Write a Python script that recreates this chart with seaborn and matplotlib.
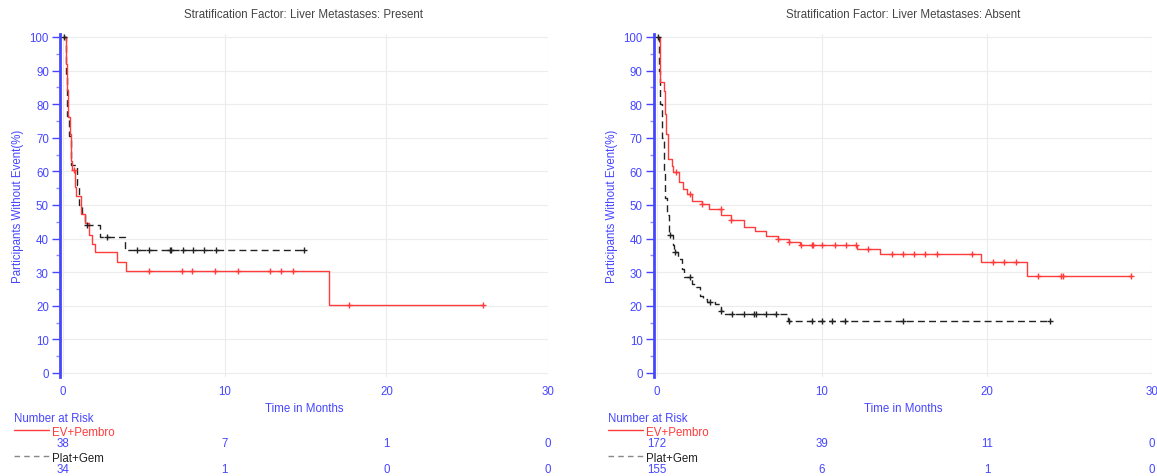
import matplotlib
matplotlib.use('Agg')
import matplotlib.pyplot as plt
from matplotlib.transforms import blended_transform_factory
from matplotlib.lines import Line2D
import seaborn as sns
import numpy as np
import pandas as pd

# ######################################################## data

titles = ['Stratification Factor: Liver Metastases: Present',
          'Stratification Factor: Liver Metastases: Absent']
arms = ['EV+Pembro', 'Plat+Gem']
risk_times = [0, 10, 20, 30]

# liver metastases present
ev_t_present = [0, 0.2, 0.25, 0.3, 0.41, 0.45, 0.52, 0.72, 0.82, 1.09, 1.34, 1.61, 1.75, 1.96, 3.3, 3.9, 16.45]
ev_s_present = [100, 92.1, 84.2, 76.3, 71.1, 63.2, 60.5, 55.3, 52.6, 47.4, 44.7, 41.2, 38.4, 35.9, 33.0, 30.2, 20.1]
ev_c_present = [0.67, 5.3, 7.34, 7.97, 9.4, 10.8, 12.8, 13.5, 14.2, 17.7, 25.95]
pg_t_present = [0, 0.15, 0.2, 0.25, 0.35, 0.49, 0.85, 1.0, 1.15, 1.32, 2.3, 3.8]
pg_s_present = [100, 94.1, 88.2, 76.5, 70.6, 61.8, 55.9, 50.0, 47.1, 44.1, 40.4, 36.7]
pg_c_present = [0.05, 1.45, 2.7, 4.55, 5.3, 6.6, 6.7, 7.4, 8.0, 8.7, 9.45, 14.9]
ev_risk_present = [38, 7, 1, 0]
pg_risk_present = [34, 1, 0, 0]

# liver metastases absent
ev_t_absent = [0, 0.2, 0.4, 0.46, 0.53, 0.68, 0.89, 0.99, 1.35, 1.6, 1.8, 2.1, 2.72, 3.13, 3.87, 4.5,
               5.27, 5.93, 6.6, 7.34, 8.0, 8.65, 12.12, 13.49, 19.64, 22.43]
ev_s_absent = [100, 86.6, 84.0, 77.0, 71.1, 63.7, 61.7, 59.7, 56.7, 54.8, 53.3, 51.3, 50.3, 48.8, 47.0, 45.6,
               43.5, 42.3, 40.7, 39.9, 39.1, 38.2, 36.9, 35.4, 32.9, 28.8]
ev_c_absent = [1.15, 2.0, 2.74, 3.85, 4.5, 7.34, 8.0, 8.7, 9.37, 9.47, 10.03, 10.77, 11.48, 12.08, 12.78,
               14.24, 14.9, 15.57, 16.26, 16.98, 19.08, 20.39, 21.05, 21.76, 23.12, 24.48, 24.58, 28.7]
pg_t_absent = [0, 0.12, 0.2, 0.3, 0.4, 0.5, 0.6, 0.7, 0.75, 0.95, 1.05, 1.25, 1.5, 1.65, 2.1, 2.35,
               2.6, 2.8, 3.0, 3.5, 3.85, 4.1, 7.95]
pg_s_absent = [100, 90, 80, 70, 60, 52, 47, 44, 41.1, 38, 36.1, 34, 31, 28.5, 26.5, 25.5,
               23, 22, 21.2, 20.5, 18.3, 17.5, 15.4]
pg_c_absent = [0.08, 0.76, 1.09, 2.0, 3.2, 3.9, 4.55, 5.27, 5.88, 5.98, 6.63, 7.2,
               8.0, 9.37, 10.03, 10.63, 11.37, 14.9, 23.8]
ev_risk_absent = [172, 39, 11, 0]
pg_risk_absent = [155, 6, 1, 0]

# ######################################################## style

BLUE = '#4646ff'
RED = '#ff3b3b'
DARK = '#222222'
FS = 8.3

sns.set_theme(style='white')
plt.rcParams['font.family'] = ['Liberation Sans', 'DejaVu Sans']


def km_frame(times, surv, censors):
    t = list(times) + [max(censors[-1], times[-1])]
    s = list(surv) + [surv[-1]]
    return pd.DataFrame({'time': t, 'surv': s})


def censor_frame(times, surv, censors):
    idx = np.searchsorted(np.array(times), np.array(censors), side='right') - 1
    return pd.DataFrame({'time': censors, 'surv': np.array(surv)[idx]})


def draw_panel(fig, ax, title, ev, pg, ev_risk, pg_risk, left_px):
    ev_df = km_frame(*ev)
    pg_df = km_frame(*pg)
    sns.lineplot(data=pg_df, x='time', y='surv', drawstyle='steps-post', color=DARK,
                 linewidth=1.0, dashes=False, ax=ax, sort=False, estimator=None)
    ax.lines[-1].set_dashes((5, 3))
    sns.lineplot(data=ev_df, x='time', y='surv', drawstyle='steps-post', color=RED,
                 linewidth=1.0, ax=ax, sort=False, estimator=None)
    ev_c = censor_frame(*ev)
    pg_c = censor_frame(*pg)
    ax.plot(pg_c['time'], pg_c['surv'], ls='none', marker='+', ms=5, mew=1.0, color=DARK)
    ax.plot(ev_c['time'], ev_c['surv'], ls='none', marker='+', ms=5, mew=1.0, color=RED)

    ax.set_xlim(-0.2, 30)
    ax.set_ylim(-1.2, 101)
    ax.set_xticks(risk_times)
    ax.set_yticks(range(0, 101, 10))
    ax.set_yticks(range(5, 100, 10), minor=True)
    ax.grid(True, which='major', color='#ececec', linewidth=0.8)
    ax.set_axisbelow(True)
    for side in ['top', 'right', 'bottom']:
        ax.spines[side].set_visible(False)
    ax.spines['left'].set_color(BLUE)
    ax.spines['left'].set_linewidth(2)
    ax.tick_params(axis='x', length=0, pad=6, labelsize=FS, labelcolor=BLUE)
    ax.tick_params(axis='y', which='major', length=6, width=1, color=BLUE, pad=2,
                   labelsize=FS, labelcolor=BLUE, left=True)
    ax.tick_params(axis='y', which='minor', length=3, width=1, color='#8c8cff', left=True)
    ax.set_xlabel('')
    ax.set_ylabel('')

    box = ax.get_position()
    cx = (box.x0 + box.x1) / 2
    fig.text(cx, 1 - 15 / 477, title, ha='center', va='center', fontsize=FS, color='#444444')
    fig.text(cx, 1 - 409 / 477, 'Time in Months', ha='center', va='center', fontsize=FS, color=BLUE)
    fig.text((left_px - 42) / 1157, (box.y0 + box.y1) / 2, 'Participants Without Event(%)',
             rotation=90, ha='center', va='center', fontsize=FS, color=BLUE)

    # number at risk table
    x0 = (left_px - 46) / 1157
    x1 = (left_px - 11) / 1157
    fig.text(x0, 1 - 419 / 477, 'Number at Risk', ha='left', va='center', fontsize=FS, color=BLUE)
    fig.add_artist(Line2D([x0, x1], [1 - 431 / 477] * 2, color=RED, lw=1.0))
    fig.text(x1 + 3 / 1157, 1 - 433 / 477, arms[0], ha='left', va='center', fontsize=FS, color=RED)
    fig.add_artist(Line2D([x0, x1], [1 - 457 / 477] * 2, color='#888888', lw=1.0, dashes=(4, 3)))
    fig.text(x1 + 3 / 1157, 1 - 459 / 477, arms[1], ha='left', va='center', fontsize=FS, color=DARK)
    trans = blended_transform_factory(ax.transData, fig.transFigure)
    for t, a, b in zip(risk_times, ev_risk, pg_risk):
        ax.text(t, 1 - 444 / 477, str(a), transform=trans, ha='center', va='center',
                fontsize=FS, color=BLUE, clip_on=False)
        ax.text(t, 1 - 470 / 477, str(b), transform=trans, ha='center', va='center',
                fontsize=FS, color=BLUE, clip_on=False)


fig = plt.figure(figsize=(11.57, 4.77), dpi=100)
ax1 = fig.add_axes([60 / 1157, 99 / 477, 488 / 1157, 343.4 / 477])
ax2 = fig.add_axes([653.7 / 1157, 99 / 477, 498.3 / 1157, 343.4 / 477])

draw_panel(fig, ax1, titles[0],
           (ev_t_present, ev_s_present, ev_c_present),
           (pg_t_present, pg_s_present, pg_c_present),
           ev_risk_present, pg_risk_present, 60)
draw_panel(fig, ax2, titles[1],
           (ev_t_absent, ev_s_absent, ev_c_absent),
           (pg_t_absent, pg_s_absent, pg_c_absent),
           ev_risk_absent, pg_risk_absent, 653.7)

fig.savefig('out.png', dpi=100)
